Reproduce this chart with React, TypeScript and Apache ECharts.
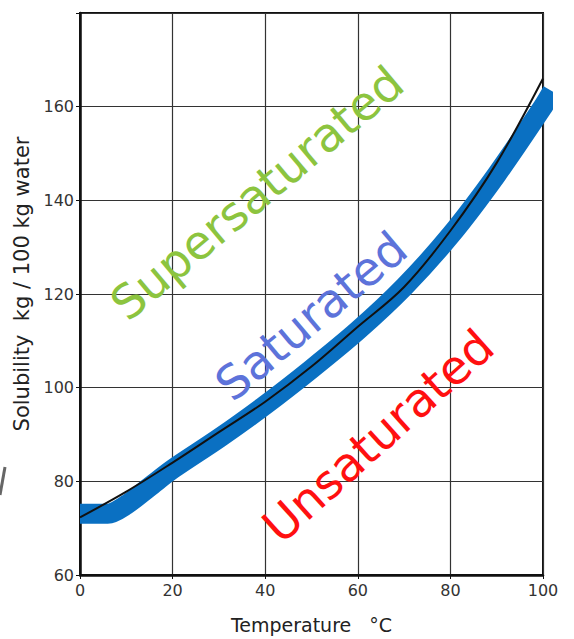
import React, { useEffect, useRef } from "react";
import * as echarts from "echarts";

// Temperature (°C) values of the black reference curve and its solubility
const curveT = [0, 10, 20, 30, 40, 50, 60, 70, 80, 90, 100];
const curveS = [72.3, 77.8, 84, 90.5, 97, 104.5, 113, 121.5, 133.5, 148, 166];

// Blue measured band: temperature and band centre
const bandT = [0, 6, 10, 15, 20, 30, 40, 50, 60, 70, 80, 90, 100, 102];
const bandCentre = [73.1, 73.1, 75.0, 78.8, 82.6, 89.2, 96.3, 104, 112.2, 121.5, 132.5, 145.5, 160, 163.3];

const xTicks = [0, 20, 40, 60, 80, 100];
const yTicks = [60, 80, 100, 120, 140, 160];

const regionLabels = ["Supersaturated", "Saturated", "Unsaturated"];

export default function App() {
  const ref = useRef<HTMLDivElement>(null);
  useEffect(() => {
    document.body.style.margin = "0";
    const chart = echarts.init(ref.current!, null, { renderer: "svg" });
    const tickFont = { fontFamily: "DejaVu Sans", fontSize: 16, color: "#333" };
    chart.setOption({
      animation: false,
      grid: { left: 80, top: 13, right: 31, bottom: 62, show: true, borderColor: "#111", borderWidth: 2, backgroundColor: "transparent" },
      xAxis: {
        type: "value",
        min: 0,
        max: 100,
        interval: 20,
        name: "Temperature   °C",
        nameLocation: "middle",
        nameGap: 40,
        nameTextStyle: { fontFamily: "DejaVu Sans", fontSize: 19, color: "#222" },
        axisLine: { show: true, lineStyle: { color: "#111", width: 2.5 } },
        axisTick: { show: true, length: 4, lineStyle: { color: "#111" } },
        axisLabel: { ...tickFont, margin: 7, formatter: (v: number) => (xTicks.includes(v) ? String(v) : "") },
        splitLine: { show: true, lineStyle: { color: "#333", width: 1.2 } },
      },
      yAxis: {
        type: "value",
        min: 60,
        max: 180,
        interval: 20,
        name: "   Solubility  kg / 100 kg water",
        nameLocation: "middle",
        nameGap: 44,
        nameTextStyle: { fontFamily: "DejaVu Sans", fontSize: 21, color: "#222" },
        axisLine: { show: true, lineStyle: { color: "#111", width: 2.5 } },
        axisTick: { show: true, length: 4, lineStyle: { color: "#111" } },
        axisLabel: { ...tickFont, margin: 6, formatter: (v: number) => (yTicks.includes(v) ? String(v) : "") },
        splitLine: { show: true, lineStyle: { color: "#333", width: 1.2 } },
      },
      series: [
        {
          type: "line",
          data: bandT.map((t, i) => [t, bandCentre[i]]),
          smooth: 0.3,
          symbol: "none",
          clip: false,
          lineStyle: { color: "#0a70c2", width: 20, cap: "butt", join: "round" },
          silent: true,
        },
        {
          type: "line",
          data: curveT.map((t, i) => [t, curveS[i]]),
          smooth: 0.35,
          symbol: "none",
          lineStyle: { color: "#111", width: 2 },
          silent: true,
          z: 5,
        },
      ],
      graphic: [
        {
          type: "text",
          x: 257,
          y: 193,
          rotation: (40 * Math.PI) / 180,
          z: 10,
          style: { text: regionLabels[0], fill: "#8cc43f", fontFamily: "DejaVu Sans", fontSize: 47, align: "center", verticalAlign: "middle" },
        },
        {
          type: "text",
          x: 311,
          y: 316,
          rotation: (40 * Math.PI) / 180,
          z: 10,
          style: { text: regionLabels[1], fill: "#5d73da", fontFamily: "DejaVu Sans", fontSize: 47, align: "center", verticalAlign: "middle" },
        },
        {
          type: "text",
          x: 378,
          y: 436,
          rotation: (42 * Math.PI) / 180,
          z: 10,
          style: { text: regionLabels[2], fill: "#ff1010", fontFamily: "DejaVu Sans", fontSize: 47, align: "center", verticalAlign: "middle" },
        },
        {
          type: "line",
          shape: { x1: 5, y1: 467, x2: 0, y2: 495 },
          style: { stroke: "#666", lineWidth: 3 },
        },
      ],
    });
    return () => chart.dispose();
  }, []);
  return <div ref={ref} style={{ width: 574, height: 639 }} />;
}
